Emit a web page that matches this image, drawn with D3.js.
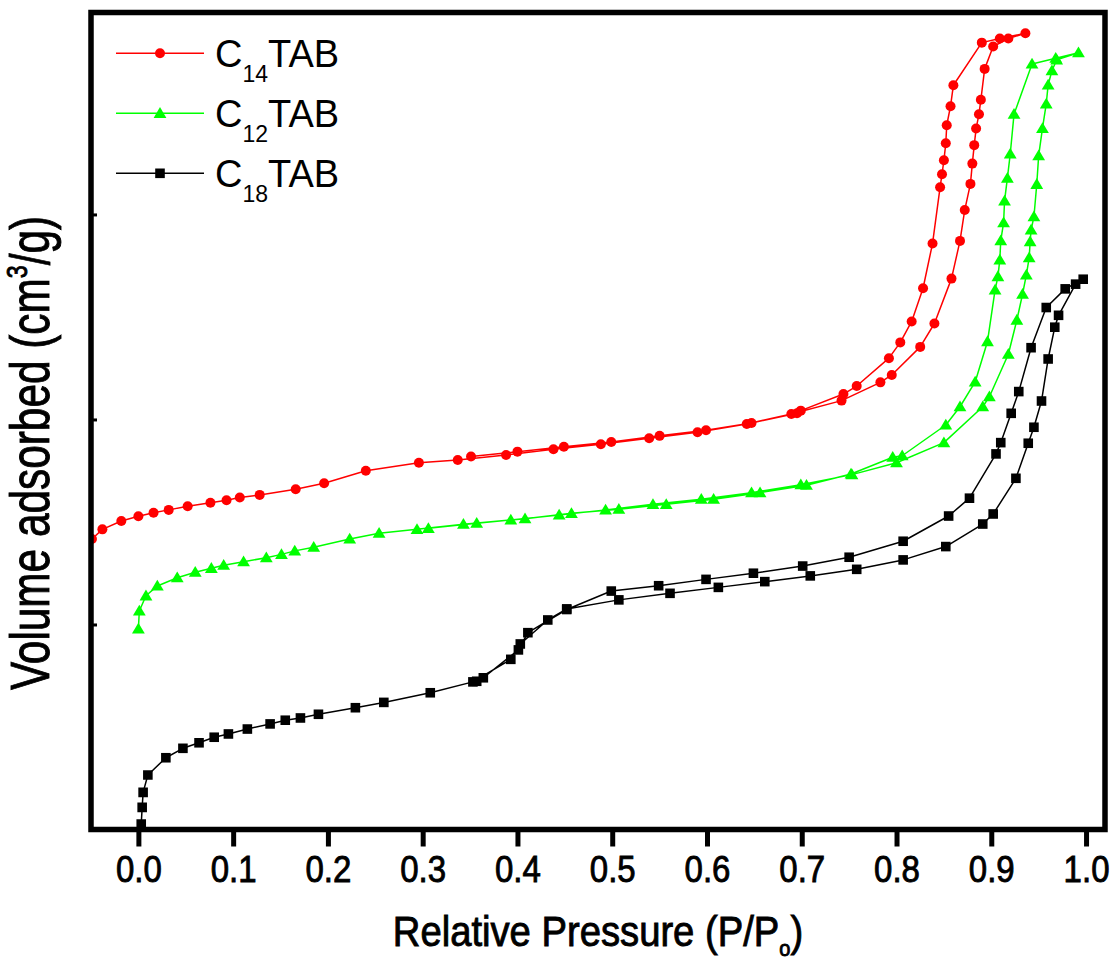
<!DOCTYPE html>
<html>
<head>
<meta charset="utf-8">
<script src="https://cdn.jsdelivr.net/npm/d3@7"></script>
<style>
  body { margin: 0; background: #fff; }
  text { font-family: "Liberation Sans", Arial, Helvetica, sans-serif; fill: #000; }
  .heavy { stroke: #000; stroke-width: 0.9px; }
</style>
</head>
<body>
<svg id="chart" width="1118" height="963"></svg>
<script>
// N2 sorption isotherms, [relative pressure P/Po, volume adsorbed (arb. units)]
const c14Adsorption = [
  [-0.049,141.7],[-0.038,146.4],[-0.018,150.5],[0.000,152.8],[0.016,154.5],[0.032,155.9],
  [0.052,157.7],[0.076,159.4],[0.093,160.6],[0.107,161.9],[0.128,163.2],[0.166,166.0],
  [0.196,168.9],[0.240,175.0],[0.296,178.9],[0.337,180.2],[0.388,182.7],[0.438,185.5],
  [0.488,187.9],[0.539,190.8],[0.590,193.8],[0.642,197.8],[0.689,202.7],[0.742,209.2],
  [0.783,218.1],[0.795,221.7],[0.825,235.4],[0.840,246.8],[0.858,268.7],[0.867,287.1],
  [0.872,302.2],[0.878,314.9],[0.880,324.8],[0.882,333.8],[0.884,341.9],[0.887,348.9],
  [0.889,355.9],[0.893,371.0],[0.902,381.9],[0.918,385.8],[0.936,388.4]
];
const c14Desorption = [
  [0.909,385.8],[0.890,383.8],[0.860,363.0],[0.857,352.8],[0.853,343.5],[0.852,334.7],
  [0.850,326.4],[0.848,319.6],[0.846,313.3],[0.838,285.8],[0.828,264.0],[0.816,247.8],
  [0.804,237.6],[0.792,229.9],[0.758,216.3],[0.744,212.4],[0.699,204.3],[0.695,203.0],
  [0.647,198.3],[0.599,194.7],[0.550,192.0],[0.499,189.0],[0.449,186.7],[0.400,184.3],
  [0.351,181.9]
];
const c12Adsorption = [
  [0.000,97.8],[0.001,106.6],[0.008,114.0],[0.020,118.8],[0.041,122.8],[0.060,125.5],
  [0.077,127.4],[0.090,128.9],[0.111,130.6],[0.135,132.6],[0.151,134.2],[0.165,135.9],
  [0.185,137.7],[0.223,141.7],[0.254,144.5],[0.294,146.4],[0.343,148.9],[0.393,151.0],
  [0.444,153.4],[0.493,155.9],[0.543,158.6],[0.594,161.1],[0.647,164.3],[0.699,168.2],
  [0.753,173.1],[0.800,178.9],[0.850,188.7],[0.891,206.2],[0.898,211.1],[0.918,231.8],
  [0.927,248.5],[0.933,261.1],[0.937,270.5],[0.940,278.9],[0.941,286.7],[0.942,292.4],
  [0.945,298.9],[0.948,314.7],[0.950,328.7],[0.954,342.0],[0.958,353.9],[0.960,363.2],
  [0.964,370.1],[0.969,375.4],[0.992,378.9]
];
const c12Desorption = [
  [0.968,376.2],[0.943,373.4],[0.924,348.9],[0.920,329.5],[0.917,317.7],[0.914,306.6],
  [0.913,296.0],[0.910,287.2],[0.909,277.8],[0.907,269.7],[0.904,263.2],[0.896,238.0],
  [0.883,218.3],[0.867,206.2],[0.852,197.3],[0.806,182.3],[0.796,181.6],[0.752,173.4],
  [0.705,167.9],[0.656,164.3],[0.607,161.1],[0.557,158.6],[0.507,156.2],[0.457,154.2],
  [0.408,151.6],[0.357,149.4],[0.306,146.9]
];
const c18Adsorption = [
  [0.003,2.7],[0.004,10.8],[0.005,18.1],[0.010,26.6],[0.029,35.0],[0.047,39.6],
  [0.064,42.3],[0.080,45.0],[0.095,46.6],[0.115,49.0],[0.139,51.5],[0.155,53.3],
  [0.171,54.4],[0.190,56.2],[0.229,59.4],[0.259,62.0],[0.308,66.7],[0.353,72.0],
  [0.393,83.0],[0.403,90.5],[0.432,102.2],[0.452,107.6],[0.507,112.0],[0.561,115.2],
  [0.612,118.1],[0.661,120.9],[0.709,123.7],[0.758,126.9],[0.807,131.5],[0.852,138.0],
  [0.891,149.0],[0.902,153.9],[0.926,171.3],[0.939,188.4],[0.945,196.2],[0.953,209.0],
  [0.960,229.5],[0.967,245.0],[0.971,250.8],[0.989,266.0],[0.997,268.4]
];
const c18Desorption = [
  [0.978,263.7],[0.958,254.6],[0.942,235.0],[0.929,213.6],[0.921,203.0],[0.910,188.7],
  [0.905,183.2],[0.877,161.6],[0.855,152.9],[0.807,140.6],[0.750,132.8],[0.701,128.5],
  [0.649,125.0],[0.599,122.0],[0.549,118.9],[0.499,116.3],[0.452,107.3],[0.411,96.0],
  [0.401,87.6],[0.364,74.0],[0.357,72.3]
];

const xTicks = [0.0, 0.1, 0.2, 0.3, 0.4, 0.5, 0.6, 0.7, 0.8, 0.9, 1.0];
const yTicks = [100, 200, 300];

const samples = [
  { name: "C", sub: "14", rest: "TAB", color: "#ff0000", shape: "circle",   ads: c14Adsorption, des: c14Desorption },
  { name: "C", sub: "12", rest: "TAB", color: "#00ff00", shape: "triangle", ads: c12Adsorption, des: c12Desorption },
  { name: "C", sub: "18", rest: "TAB", color: "#000000", shape: "square",   ads: c18Adsorption, des: c18Desorption }
];

const frame = { left: 91, right: 1105, top: 12.5, bottom: 829.5 };

const x = d3.scaleLinear().domain([-0.05, 1.02]).range([frame.left, frame.right]);
const y = d3.scaleLinear().domain([0, 398.5]).range([frame.bottom, frame.top]);

const svg = d3.select("#chart");

svg.append("defs").append("clipPath").attr("id", "plotClip")
  .append("rect")
  .attr("x", frame.left).attr("y", frame.top)
  .attr("width", frame.right - frame.left).attr("height", frame.bottom - frame.top);

function markerPath(shape) {
  if (shape === "triangle") return "M0,-6.2L6.4,4.6L-6.4,4.6Z";
  if (shape === "square") return "M-4.8,-4.8H4.8V4.8H-4.8Z";
  return d3.symbol(d3.symbolCircle, Math.PI * 25)();
}

const line = d3.line().x(d => x(d[0])).y(d => y(d[1]));

const plot = svg.append("g").attr("clip-path", "url(#plotClip)");

samples.forEach(s => {
  const pts = s.ads.concat(s.des);
  const g = plot.append("g");
  g.append("path")
    .attr("d", line(pts))
    .attr("fill", "none")
    .attr("stroke", s.color)
    .attr("stroke-width", 1.5)
    .attr("stroke-linejoin", "round");
  g.selectAll("path.marker")
    .data(pts)
    .join("path")
    .attr("class", "marker")
    .attr("transform", d => `translate(${x(d[0])},${y(d[1])})`)
    .attr("d", markerPath(s.shape))
    .attr("fill", s.color);
});

// x axis: ticks hang below the frame
const xAxis = svg.append("g")
  .attr("transform", `translate(0,${frame.bottom})`)
  .call(d3.axisBottom(x).tickValues(xTicks).tickSize(17).tickFormat(d3.format(".1f")));
xAxis.select(".domain").remove();
xAxis.selectAll(".tick line").attr("stroke", "#000").attr("stroke-width", 5);
xAxis.selectAll(".tick text")
  .attr("class", "heavy")
  .attr("y", 882 - frame.bottom).attr("dy", 0)
  .attr("font-size", 37.5)
  .attr("font-family", "Liberation Sans, Arial, sans-serif")
  .attr("fill", "#000")
  .attr("transform", "scale(0.88,1)");

// y axis: short inward ticks, no labels
const yAxis = svg.append("g")
  .attr("transform", `translate(${frame.left},0)`)
  .call(d3.axisRight(y).tickValues(yTicks).tickSize(6).tickFormat(""));
yAxis.select(".domain").remove();
yAxis.selectAll(".tick line").attr("stroke", "#000").attr("stroke-width", 3);

// frame
svg.append("rect")
  .attr("x", frame.left).attr("y", frame.top)
  .attr("width", frame.right - frame.left).attr("height", frame.bottom - frame.top)
  .attr("fill", "none").attr("stroke", "#000").attr("stroke-width", 5.5);

// axis titles
const xTitle = svg.append("text")
  .attr("class", "heavy")
  .attr("transform", "translate(598,946) scale(0.91,1)")
  .attr("text-anchor", "middle")
  .attr("font-size", 42);
xTitle.append("tspan").text("Relative Pressure (P/P");
xTitle.append("tspan").attr("font-size", 22).attr("dy", 10).text("o");
xTitle.append("tspan").attr("dy", -10).text(")");

const yTitle = svg.append("text")
  .attr("class", "heavy")
  .attr("transform", "translate(49,453) rotate(-90) scale(0.77,1)")
  .attr("text-anchor", "middle")
  .attr("font-size", 55);
yTitle.append("tspan").text("Volume adsorbed (cm");
yTitle.append("tspan").attr("font-size", 30).attr("dy", -22).text("3");
yTitle.append("tspan").attr("dy", 22).text("/g)");

// legend
const legend = svg.append("g");
samples.forEach((s, i) => {
  const ly = 53.3 + i * 60;
  const row = legend.append("g");
  row.append("line")
    .attr("x1", 116).attr("x2", 204).attr("y1", ly).attr("y2", ly)
    .attr("stroke", s.color).attr("stroke-width", 1.5);
  row.append("path")
    .attr("transform", `translate(160,${ly})`)
    .attr("d", markerPath(s.shape))
    .attr("fill", s.color);
  const t = row.append("text").attr("x", 215).attr("y", ly + 13.4).attr("font-size", 38);
  t.append("tspan").text(s.name);
  t.append("tspan").attr("font-size", 23).attr("dy", 15).text(s.sub);
  t.append("tspan").attr("dy", -15).text(s.rest);
});
</script>
</body>
</html>
